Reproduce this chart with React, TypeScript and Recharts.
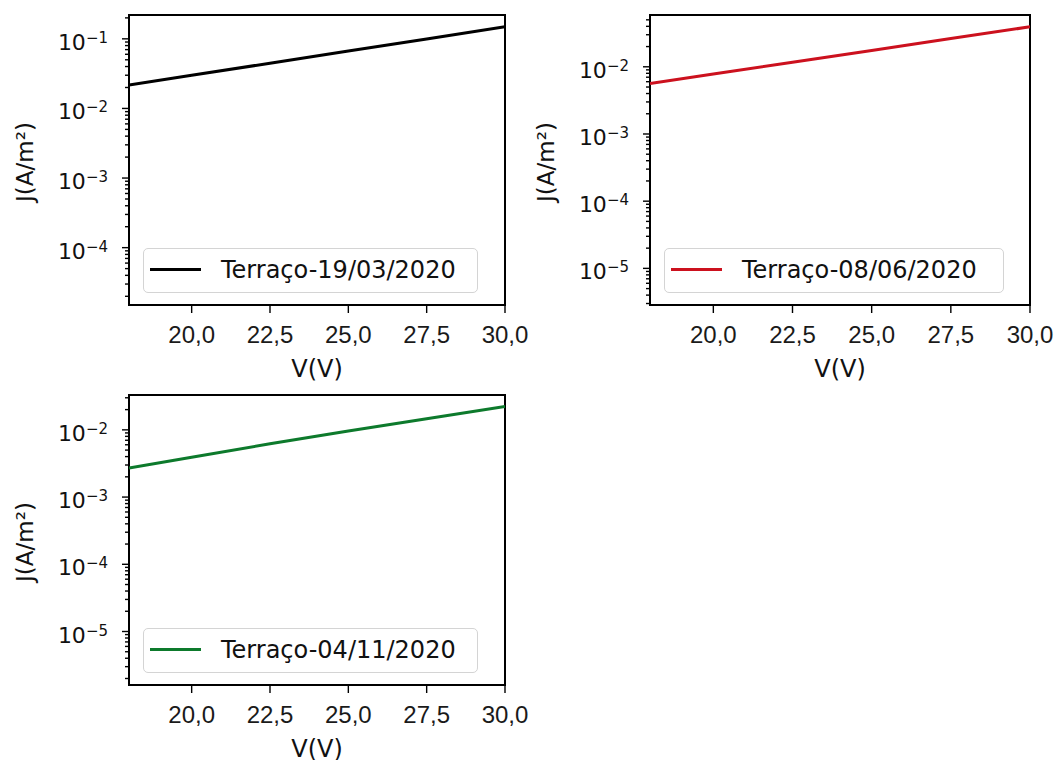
import React from 'react';
import { LineChart, Line, XAxis, YAxis, Legend, ReferenceArea } from 'recharts';

// Bias voltage (V) at which J was sampled
const voltage = [18, 20, 22.5, 25, 27.5, 30];

// Current density J (A/m²) for each measurement date
const jMarch = [0.0217, 0.03, 0.0446, 0.0668, 0.0998, 0.1496];
const jJune = [0.00566, 0.0078, 0.0117, 0.0175, 0.0263, 0.0394];
const jNovember = [0.0027, 0.0039, 0.0062, 0.0096, 0.0146, 0.0222];

const seriesNames = ['Terraço-19/03/2020', 'Terraço-08/06/2020', 'Terraço-04/11/2020'];
const seriesColors = ['#000000', '#cc111e', '#0d7a2c'];

const voltTicks = [20, 22.5, 25, 27.5, 30];
const voltTickLabels = ['20,0', '22,5', '25,0', '27,5', '30,0'];
const vRange: [number, number] = [18, 30];

// Visible J range of each panel
const jRangeMarch: [number, number] = [1.5e-5, 0.22];
const jRangeJune: [number, number] = [2.85e-6, 0.059];
const jRangeNovember: [number, number] = [1.6e-6, 0.033];

const X_LABEL = 'V(V)';
const Y_LABEL = 'J(A/m²)';

const Y_AXIS_W = 60;
const X_AXIS_H = 40;
const FONT = 'DejaVu Sans, sans-serif';

// Log-axis ticks: 1..9 × 10^e inside the range
function logTicks([lo, hi]: [number, number]): number[] {
  const out: number[] = [];
  for (let e = Math.floor(Math.log10(lo)); e <= Math.ceil(Math.log10(hi)); e++) {
    for (let k = 1; k <= 9; k++) {
      const v = k * Math.pow(10, e);
      if (v >= lo && v <= hi) out.push(v);
    }
  }
  return out;
}

function isDecade(v: number) {
  const l = Math.log10(v);
  return Math.abs(l - Math.round(l)) < 1e-6;
}

const YTick = (props: any) => {
  const { x, y, payload } = props;
  const v = payload.value as number;
  const major = isDecade(v);
  const exp = Math.round(Math.log10(v));
  return (
    <g>
      <line x1={x - (major ? 7 : 4)} x2={x} y1={y} y2={y} stroke="#000" strokeWidth={1.4} />
      {major && (
        <text x={x - 21} y={y + 11} textAnchor="end" fontFamily={FONT} fontSize={22} fill="#111">
          <tspan>10</tspan>
          <tspan dy={-7} fontSize={15}>{'\u2212' + Math.abs(exp)}</tspan>
        </text>
      )}
    </g>
  );
};

const XTick = (props: any) => {
  const { x, y, payload } = props;
  const idx = voltTicks.indexOf(payload.value);
  return (
    <g>
      <line x1={x} x2={x} y1={y} y2={y + 8} stroke="#000" strokeWidth={1.4} />
      <text x={x} y={y + 38} textAnchor="middle" fontFamily="Liberation Sans, Arial, sans-serif" fontSize={24} fill="#1a1a1a">
        {idx >= 0 ? voltTickLabels[idx] : String(payload.value)}
      </text>
    </g>
  );
};

type Box = { left: number; top: number; right: number; bottom: number };

type PanelProps = {
  left: number;
  top: number;
  width: number;
  height: number;
  plot: Box;
  j: number[];
  name: string;
  color: string;
  jRange: [number, number];
  legendWidth: number;
};

function Panel({ left, top, width, height, plot, j, name, color, jRange, legendWidth }: PanelProps) {
  const data = voltage.map((v, i) => ({ v, j: j[i] }));
  const margin = {
    top: plot.top,
    left: plot.left - Y_AXIS_W,
    right: width - plot.right,
    bottom: height - plot.bottom - X_AXIS_H,
  };
  const cy = (plot.top + plot.bottom) / 2;
  const cx = (plot.left + plot.right) / 2;

  const renderLegend = (p: any) => {
    const entry = (p.payload && p.payload[0]) || { value: name, color };
    return (
      <div
        style={{
          width: legendWidth,
          height: 45,
          boxSizing: 'border-box',
          border: '1px solid #d4d4d4',
          borderRadius: 5,
          background: 'rgba(255,255,255,0.85)',
        }}
      >
        <svg width={legendWidth - 2} height={43} style={{ display: 'block' }}>
          <line x1={6} x2={57} y1={20.5} y2={20.5} stroke={entry.color || color} strokeWidth={3} />
          <text x={77} y={28.5} fontFamily={FONT} fontSize={24} fill="#111">
            {entry.value}
          </text>
        </svg>
      </div>
    );
  };

  return (
    <div style={{ position: 'absolute', left, top, width, height }}>
      <LineChart width={width} height={height} data={data} margin={margin}>
        <XAxis
          dataKey="v"
          type="number"
          domain={vRange}
          allowDataOverflow
          ticks={voltTicks}
          interval={0}
          tick={<XTick />}
          tickLine={false}
          tickSize={0}
          tickMargin={0}
          axisLine={false}
          height={X_AXIS_H}
          label={{
            content: () => (
              <text x={cx} y={plot.bottom + 72} textAnchor="middle" fontFamily={FONT} fontSize={24} fill="#111">
                {X_LABEL}
              </text>
            ),
          }}
        />
        <YAxis
          type="number"
          scale="log"
          domain={jRange}
          allowDataOverflow
          ticks={logTicks(jRange)}
          interval={0}
          tick={<YTick />}
          tickLine={false}
          tickSize={0}
          tickMargin={0}
          axisLine={false}
          width={Y_AXIS_W}
          label={{
            content: () => (
              <text
                x={plot.left - 104}
                y={cy + 2}
                transform={`rotate(-90 ${plot.left - 104} ${cy + 2})`}
                textAnchor="middle"
                dominantBaseline="central"
                fontFamily={FONT}
                fontSize={23}
                fill="#111"
              >
                {Y_LABEL}
              </text>
            ),
          }}
        />
        <ReferenceArea
          x1={vRange[0]}
          x2={vRange[1]}
          y1={jRange[0]}
          y2={jRange[1]}
          fill="none"
          fillOpacity={0}
          stroke="#000"
          strokeOpacity={1}
          strokeWidth={2}
          ifOverflow="visible"
        />
        <Line
          type="linear"
          dataKey="j"
          name={name}
          stroke={color}
          strokeWidth={3}
          dot={false}
          isAnimationActive={false}
        />
        <Legend
          layout="horizontal"
          verticalAlign="middle"
          align="center"
          content={renderLegend}
          wrapperStyle={{ left: plot.left + 14, top: plot.bottom - 57, width: legendWidth, height: 45 }}
        />
      </LineChart>
    </div>
  );
}

export default function App() {
  return (
    <div
      style={{
        position: 'absolute',
        left: 0,
        top: 0,
        width: 1054,
        height: 760,
        background: '#fff',
        overflow: 'hidden',
      }}
    >
      <Panel
        left={0}
        top={0}
        width={540}
        height={390}
        plot={{ left: 129, top: 15, right: 505, bottom: 305 }}
        j={jMarch}
        name={seriesNames[0]}
        color={seriesColors[0]}
        jRange={jRangeMarch}
        legendWidth={335}
      />
      <Panel
        left={520}
        top={0}
        width={534}
        height={390}
        plot={{ left: 130, top: 15, right: 510, bottom: 305 }}
        j={jJune}
        name={seriesNames[1]}
        color={seriesColors[1]}
        jRange={jRangeJune}
        legendWidth={340}
      />
      <Panel
        left={0}
        top={380}
        width={540}
        height={380}
        plot={{ left: 129, top: 15, right: 505, bottom: 305 }}
        j={jNovember}
        name={seriesNames[2]}
        color={seriesColors[2]}
        jRange={jRangeNovember}
        legendWidth={335}
      />
    </div>
  );
}
